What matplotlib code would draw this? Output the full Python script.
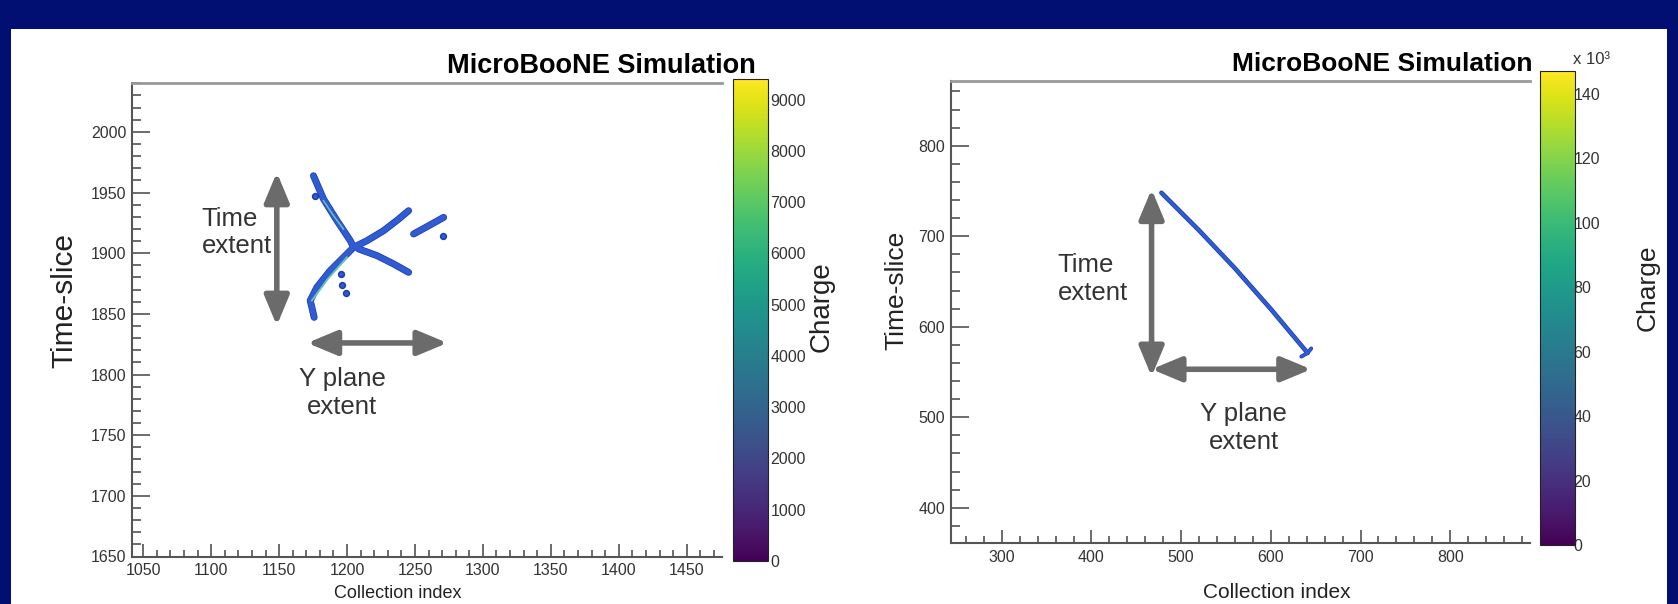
import numpy as np
import matplotlib
matplotlib.use('Agg')
import matplotlib.pyplot as plt
from matplotlib.patches import Rectangle
from matplotlib.ticker import MultipleLocator
from matplotlib import cm, colors

plt.rcParams['font.family'] = ['Liberation Sans', 'DejaVu Sans']

# ---- left event: branches of the shower (collection index, time-slice)
ul_x = [1175.3, 1182.7, 1192.6, 1202.4, 1204.8]
ul_y = [1963.8, 1944.6, 1926.8, 1910.3, 1904.8]
ll_x = [1204.8, 1197.4, 1187.6, 1177.8, 1172.9, 1174.1, 1175.8]
ll_y = [1904.8, 1896.5, 1885.6, 1871.8, 1860.9, 1855.4, 1847.1]
ur_x = [1204.8, 1214.7, 1226.9, 1238.0, 1245.3]
ur_y = [1904.8, 1910.3, 1918.5, 1928.1, 1935.0]
lr_x = [1208.5, 1222.0, 1234.3, 1245.3]
lr_y = [1903.5, 1898.0, 1891.1, 1884.2]
seg_x = [1249.0, 1260.1, 1271.1]
seg_y = [1915.8, 1922.6, 1929.5]
blob_x = [1176.6, 1195.5, 1196.3, 1199.2, 1270.7]
blob_y = [1947.4, 1882.9, 1874.1, 1867.5, 1914.2]
core1_x = [1174.1, 1186.0, 1199.9]
core1_y = [1860.9, 1879.0, 1896.5]
core2_x = [1182.7, 1190.0, 1197.4]
core2_y = [1943.2, 1931.0, 1919.8]

# ---- right event: single track
rt_x = [478, 520, 560, 600, 641]
rt_y = [748, 706.4, 664.5, 619.5, 571]
hook_x = [634, 641, 645]
hook_y = [567, 571, 576]

left_cbar_ticks = list(range(0, 9001, 1000))
right_cbar_ticks = list(range(0, 141, 20))

navy = '#020f72'
blue = '#2f5bd3'
edge = '#1c3aa8'
core = '#63c7b2'
arrow_col = '#6b6b6b'
txt = '#333333'

fig = plt.figure(figsize=(16.78, 6.04), dpi=100, facecolor=navy)
fig.patches.append(Rectangle((11 / 1678, 0), 1656 / 1678, 575 / 604,
                             transform=fig.transFigure, facecolor='white',
                             edgecolor='none', zorder=-5))


def style_axes(ax, xmaj, xmin, ymaj, ymin):
    ax.spines['right'].set_visible(False)
    ax.spines['top'].set_color('#999999')
    ax.spines['top'].set_linewidth(2)
    for s in ['left', 'bottom']:
        ax.spines[s].set_color('#555555')
        ax.spines[s].set_linewidth(1.5)
    ax.xaxis.set_major_locator(MultipleLocator(xmaj))
    ax.xaxis.set_minor_locator(MultipleLocator(xmin))
    ax.yaxis.set_major_locator(MultipleLocator(ymaj))
    ax.yaxis.set_minor_locator(MultipleLocator(ymin))
    ax.tick_params(axis='both', which='both', direction='in', colors='#444444',
                   labelcolor=txt, labelsize=11.5, width=1.1)
    ax.tick_params(axis='y', which='major', length=13, pad=4)
    ax.tick_params(axis='y', which='minor', length=6.5)
    ax.tick_params(axis='x', which='major', length=9.5, pad=5)
    ax.tick_params(axis='x', which='minor', length=4.7)
    ax.tick_params(top=False, right=False, which='both')


def draw_track(ax, x, y, lw):
    ax.plot(x, y, color=edge, lw=lw + 1.0, solid_capstyle='round',
            solid_joinstyle='round', zorder=3)
    ax.plot(x, y, color=blue, lw=lw, solid_capstyle='round',
            solid_joinstyle='round', zorder=4)


def double_arrow(ax, p0, p1):
    ax.annotate('', xy=p1, xytext=p0,
                arrowprops=dict(arrowstyle='<|-|>,head_length=1.8,head_width=0.75',
                                color=arrow_col, lw=4, shrinkA=0, shrinkB=0),
                zorder=2)


# ---------------- left panel ----------------
ax1 = fig.add_axes([131.7 / 1678, 1 - 556.5 / 604, 590.3 / 1678, 473.2 / 604])
ax1.set_xlim(1041.5, 1476)
ax1.set_ylim(1650, 2040)
style_axes(ax1, 50, 10, 50, 10)
for bx, by in [(ul_x, ul_y), (ll_x, ll_y), (ur_x, ur_y), (lr_x, lr_y), (seg_x, seg_y)]:
    draw_track(ax1, bx, by, 4.0)
ax1.scatter(blob_x, blob_y, s=18, color=blue, edgecolors=edge, zorder=4)
ax1.plot(core1_x, core1_y, color=core, lw=1.4, zorder=5)
ax1.plot(core2_x, core2_y, color=core, lw=1.1, zorder=5)

double_arrow(ax1, (1148.3, 1840.3), (1148.3, 1966.6))
double_arrow(ax1, (1170.7, 1826), (1273.9, 1826))
ax1.text(1093, 1917, 'Time\nextent', fontsize=18.5, color=txt, ha='left', va='center')
ax1.text(1196.5, 1785, 'Y plane\nextent', fontsize=18.5, color=txt, ha='center',
         va='center', multialignment='center')

ax1.set_ylabel('Time-slice', fontsize=21.5, color='#222222', va='center')
ax1.yaxis.set_label_coords(-0.1147, 0.542)
ax1.set_xlabel('Collection index', fontsize=13, color='#222222', va='bottom')
ax1.xaxis.set_label_coords(0.451, (556.5 - 602) / 473.2)
fig.text(756 / 1678, 1 - 73 / 604, 'MicroBooNE Simulation', fontsize=19.5,
         fontweight='bold', ha='right', va='baseline', color='black')

cax1 = fig.add_axes([732.7 / 1678, 1 - 561 / 604, 35 / 1678, 482 / 604])
sm1 = cm.ScalarMappable(norm=colors.Normalize(0, 9400), cmap='viridis')
cb1 = fig.colorbar(sm1, cax=cax1, ticks=left_cbar_ticks)
cb1.outline.set_edgecolor('#222222')
cb1.outline.set_linewidth(0.8)
cax1.tick_params(length=0, labelsize=11.5, pad=2, labelcolor=txt)
fig.text(822 / 1678, 1 - 307 / 604, 'Charge', fontsize=20, rotation=90,
         ha='center', va='center', color='#222222')

# ---------------- right panel ----------------
ax2 = fig.add_axes([950.7 / 1678, 1 - 543.3 / 604, 579.3 / 1678, 462.3 / 604])
ax2.set_xlim(243, 889)
ax2.set_ylim(360.7, 871.5)
style_axes(ax2, 100, 20, 100, 20)
draw_track(ax2, rt_x, rt_y, 2.3)
draw_track(ax2, hook_x, hook_y, 1.8)

double_arrow(ax2, (467, 545), (467, 752))
double_arrow(ax2, (467, 553), (645, 553))
ax2.text(362, 652.7, 'Time\nextent', fontsize=18.5, color=txt, ha='left', va='center')
ax2.text(570, 488, 'Y plane\nextent', fontsize=18.5, color=txt, ha='center',
         va='center', multialignment='center')

ax2.set_ylabel('Time-slice', fontsize=19, color='#222222', va='center')
ax2.yaxis.set_label_coords(-0.0944, 0.548)
ax2.set_xlabel('Collection index', fontsize=15, color='#222222', va='top')
ax2.xaxis.set_label_coords((1277 - 950.7) / 579.3, (543.3 - 583) / 462.3)
fig.text(1532 / 1678, 1 - 71 / 604, 'MicroBooNE Simulation', fontsize=19,
         fontweight='bold', ha='right', va='baseline', color='black')

cax2 = fig.add_axes([1540 / 1678, 1 - 545 / 604, 35 / 1678, 474 / 604])
sm2 = cm.ScalarMappable(norm=colors.Normalize(0, 147), cmap='viridis')
cb2 = fig.colorbar(sm2, cax=cax2, ticks=right_cbar_ticks)
cb2.outline.set_edgecolor('#222222')
cb2.outline.set_linewidth(0.8)
cax2.tick_params(length=0, labelsize=11.5, pad=-1, labelcolor=txt)
fig.text(1573 / 1678, 1 - 59 / 604, 'x 10³', fontsize=12, ha='left',
         va='center', color=txt)
fig.text(1648 / 1678, 1 - 288 / 604, 'Charge', fontsize=19, rotation=90,
         ha='center', va='center', color='#222222')

fig.savefig('out.png', dpi=100, facecolor=navy)
